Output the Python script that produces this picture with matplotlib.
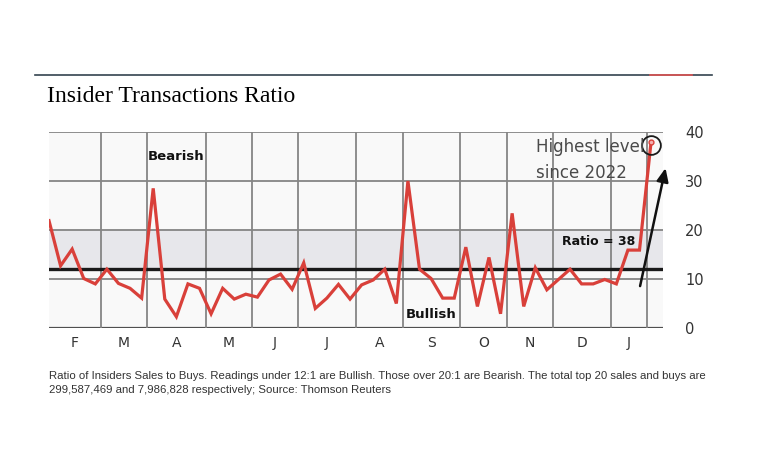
import matplotlib
matplotlib.use("Agg")
import matplotlib.pyplot as plt
from matplotlib.lines import Line2D

# ---- data ----
ratio = [21.9, 12.7, 16.1, 10.1, 9.0, 12.0, 9.1, 8.1, 6.1, 28.5,
         5.9, 2.3, 9.0, 8.1, 2.9, 8.1, 5.9, 6.9, 6.3, 9.8,
         11.0, 7.9, 13.3, 4.0, 6.1, 8.9, 5.9, 8.8, 9.8, 12.0,
         5.0, 30.0, 12.0, 10.1, 6.1, 6.1, 16.5, 4.4, 14.4, 2.9,
         23.4, 4.4, 12.3, 7.8, 9.9, 12.0, 9.0, 9.0, 9.9, 9.0,
         15.9, 15.9, 38.0]
weeks = list(range(len(ratio)))
months = ['F', 'M', 'A', 'M', 'J', 'J', 'A', 'S', 'O', 'N', 'D', 'J']
month_bounds = [4.49, 8.46, 13.56, 17.53, 21.5, 26.5, 30.57, 35.49, 39.55, 43.52, 48.53, 51.64]
yticks = [0, 10, 20, 30, 40]
bull_level = 12
bear_level = 20
peak = 38

W, H = 758, 474
fig = plt.figure(figsize=(W / 100, H / 100), dpi=100)
fig.patch.set_facecolor('white')

ax = fig.add_axes([49 / W, 1 - 328 / H, 614 / W, 196 / H])
ax.set_facecolor('#f9f9f9')
ax.set_xlim(0, 53.03)
ax.set_ylim(0, 40)
for s in ax.spines.values():
    s.set_visible(False)

# shaded neutral band
ax.axhspan(bull_level, bear_level, color='#e7e7eb', zorder=0)

# grid
for y in yticks:
    ax.axhline(y, color='#858585' if y else '#505050', lw=1.3 if y else 1.6, zorder=1)
for b in month_bounds:
    ax.axvline(b, color='#858585', lw=1.3, zorder=1)
ax.axhline(bull_level, color='#1a1a1a', lw=2.4, zorder=2)

# series
ax.plot(weeks, ratio, color='#d9403a', lw=2.3, zorder=3, solid_joinstyle='miter')
ax.plot(weeks[-1], ratio[-1], 'o', ms=3.5, mfc='#f3b0b0', mec='#d9403a', mew=1, zorder=4)
ax.plot(weeks[-1], ratio[-1] - 0.6, 'o', ms=13.5, mfc='none', mec='#1a1a1a', mew=1.3,
        zorder=5, clip_on=False)

# ticks
ax.yaxis.tick_right()
ax.set_yticks(yticks)
ax.tick_params(axis='y', length=0, pad=16, labelsize=10.5, labelcolor='#333333')
mids = []
prev = 0
for b in month_bounds:
    mids.append((prev + b) / 2)
    prev = b
ax.set_xticks(mids)
ax.set_xticklabels(months)
ax.tick_params(axis='x', length=0, pad=6, labelsize=10, labelcolor='#333333')

# annotations
ax.text(8.5, 35, 'Bearish', fontsize=9.5, fontweight='bold', color='#111111', va='center', ha='left')
ax.text(30.8, 2.7, 'Bullish', fontsize=9.5, fontweight='bold', color='#111111', va='center', ha='left')
ax.text(44.3, 17.7, 'Ratio = ' + str(int(peak)), fontsize=9, fontweight='bold', color='#111111',
        va='center', ha='left')
ax.text(51.45, 36.9, 'Highest level', fontsize=12, color='#4a4a4a', va='center', ha='right', zorder=6)
ax.text(49.9, 31.7, 'since 2022', fontsize=12, color='#4a4a4a', va='center', ha='right', zorder=6)
ax.annotate('', xy=(53.3, 33.2), xytext=(51.0, 8.0),
            arrowprops=dict(arrowstyle='-|>,head_length=0.8,head_width=0.35', color='#111111', lw=1.8),
            annotation_clip=False, zorder=6)

# title and rule
fig.add_artist(Line2D([35 / W, 712 / W], [1 - 75 / H, 1 - 75 / H], color='#34434f', lw=1.2))
fig.add_artist(Line2D([650 / W, 692 / W], [1 - 75 / H, 1 - 75 / H], color='#e05555', lw=1.2))
fig.text(47 / W, 1 - 96 / H, 'Insider Transactions Ratio', fontsize=17, family='Liberation Serif',
         color='#000000', va='center', ha='left')

# footnote
fig.text(49 / W, 1 - 376 / H,
         'Ratio of Insiders Sales to Buys. Readings under 12:1 are Bullish. Those over 20:1 are Bearish. '
         'The total top 20 sales and buys are',
         fontsize=8.2, family='Liberation Sans', color='#333333', va='center', ha='left')
fig.text(49 / W, 1 - 390 / H,
         '299,587,469 and 7,986,828 respectively; Source: Thomson Reuters',
         fontsize=8.2, family='Liberation Sans', color='#333333', va='center', ha='left')

fig.savefig('out.png', dpi=100, facecolor='white')
